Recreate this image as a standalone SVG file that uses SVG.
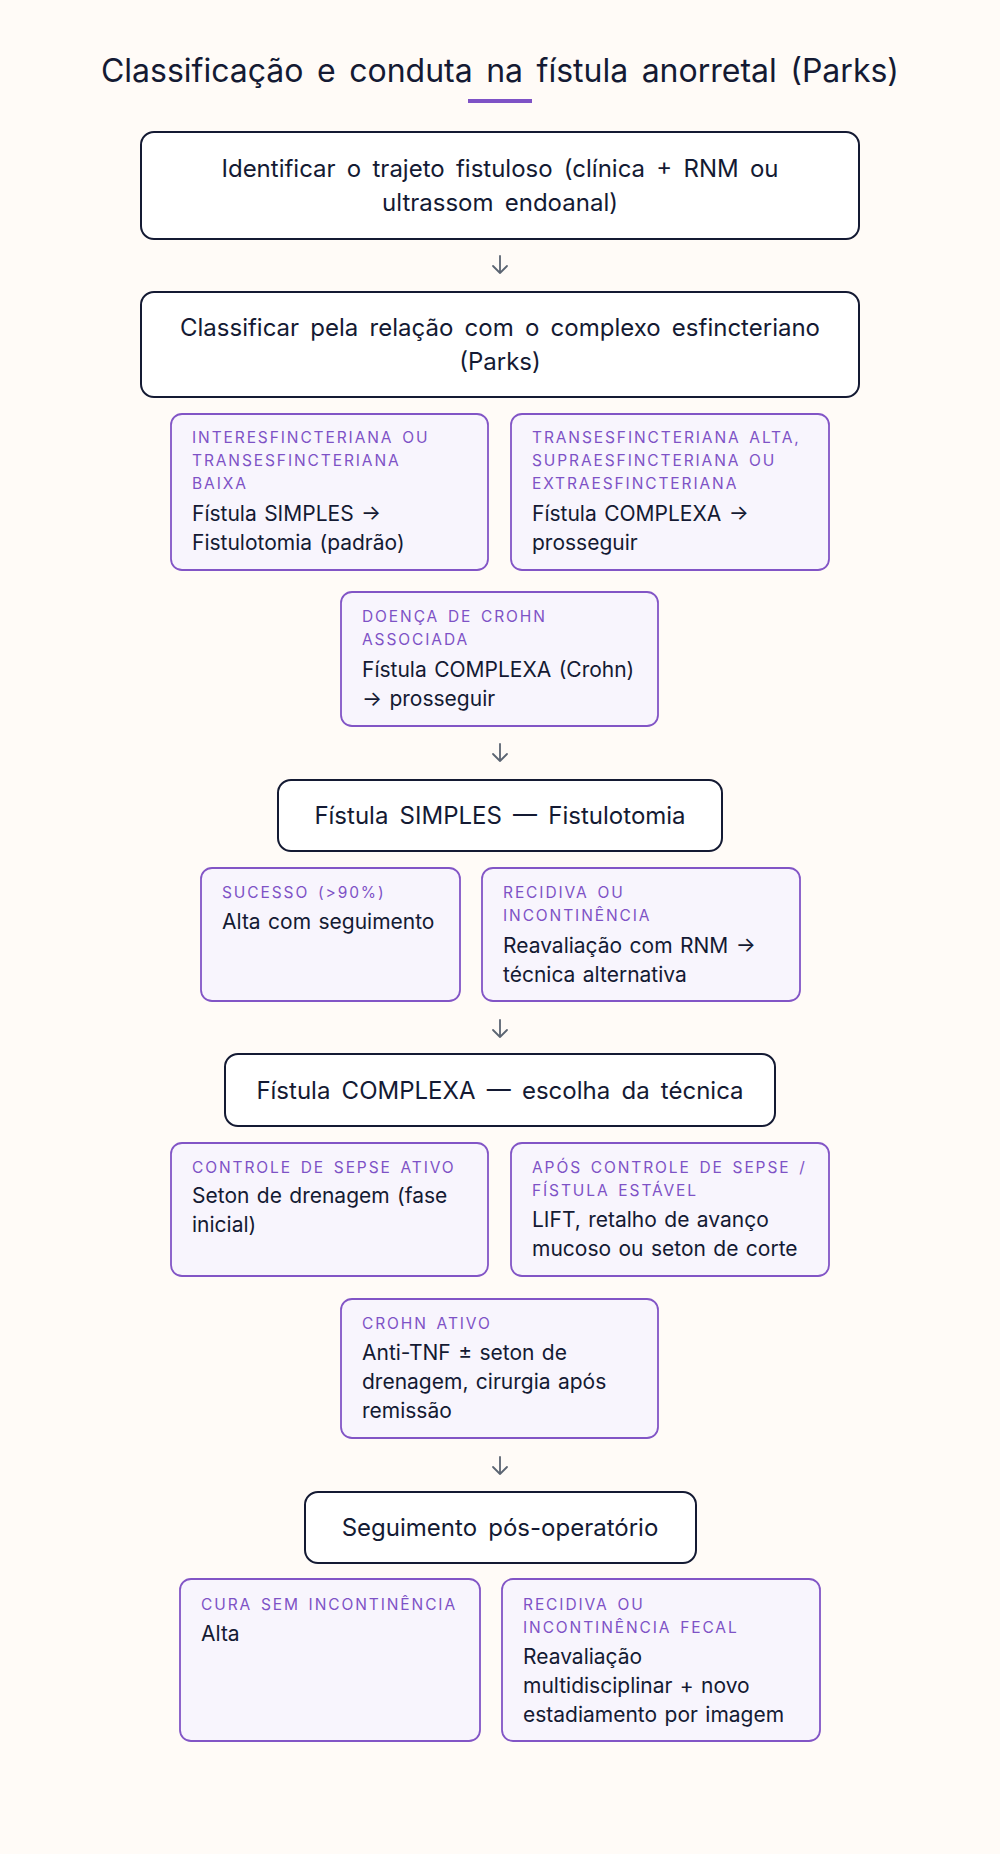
<svg xmlns="http://www.w3.org/2000/svg" width="1000" height="1854" viewBox="0 0 1000 1854">
<style>
.bg{fill:#fffbf7}
.title{font-family:Inter,"Liberation Sans",sans-serif;font-size:32px;word-spacing:4.5px;fill:#141a33;text-anchor:middle}
.main rect{fill:#ffffff;stroke:#141a33;stroke-width:2}
.main text{font-family:Inter,"Liberation Sans",sans-serif;font-size:24px;word-spacing:4.5px;fill:#141a33;text-anchor:middle}
.sub rect{fill:#f8f5fd;stroke:#8255c6;stroke-width:1.8}
.lab{font-family:Inter,"Liberation Sans",sans-serif;font-size:15.5px;letter-spacing:1.9px;word-spacing:2.5px;fill:#7e52c6}
.body{font-family:Inter,"Liberation Sans",sans-serif;font-size:21px;word-spacing:1.5px;fill:#141a33}
.conn path{fill:none;stroke:#5b6472;stroke-width:1.8;stroke-linecap:round;stroke-linejoin:round}
</style>
<rect class="bg" x="0" y="0" width="1000" height="1854"/>
<text class="title" x="500" y="82">Classificação e conduta na fístula anorretal (Parks)</text>
<rect x="468" y="99" width="64" height="4" fill="#7e52c6"/>

<g id="n1" class="main">
<rect x="141" y="132" width="718" height="107" rx="13"/>
<text x="500" y="177">Identificar o trajeto fistuloso (clínica + RNM ou</text>
<text x="500" y="211">ultrassom endoanal)</text>
</g>

<g id="n2" class="main">
<rect x="141" y="292" width="718" height="105" rx="13"/>
<text x="500" y="336">Classificar pela relação com o complexo esfincteriano</text>
<text x="500" y="370">(Parks)</text>
</g>

<g id="n2a" class="sub">
<rect x="171" y="414" width="317" height="156" rx="11"/>
<text class="lab" x="192" y="443">INTERESFINCTERIANA OU</text>
<text class="lab" x="192" y="466">TRANSESFINCTERIANA</text>
<text class="lab" x="192" y="489">BAIXA</text>
<text class="body" x="192" y="521">Fístula SIMPLES →</text>
<text class="body" x="192" y="550">Fistulotomia (padrão)</text>
</g>

<g id="n2b" class="sub">
<rect x="511" y="414" width="318" height="156" rx="11"/>
<text class="lab" x="532" y="443">TRANSESFINCTERIANA ALTA,</text>
<text class="lab" x="532" y="466">SUPRAESFINCTERIANA OU</text>
<text class="lab" x="532" y="489">EXTRAESFINCTERIANA</text>
<text class="body" x="532" y="521">Fístula COMPLEXA →</text>
<text class="body" x="532" y="550">prosseguir</text>
</g>

<g id="n2c" class="sub">
<rect x="341" y="592" width="317" height="134" rx="11"/>
<text class="lab" x="362" y="622">DOENÇA DE CROHN</text>
<text class="lab" x="362" y="645">ASSOCIADA</text>
<text class="body" x="362" y="677">Fístula COMPLEXA (Crohn)</text>
<text class="body" x="362" y="706">→ prosseguir</text>
</g>

<g id="n3" class="main">
<rect x="278" y="780" width="444" height="71" rx="13"/>
<text x="500" y="824">Fístula SIMPLES — Fistulotomia</text>
</g>

<g id="n3a" class="sub">
<rect x="201" y="868" width="259" height="133" rx="11"/>
<text class="lab" x="222" y="898">SUCESSO (&gt;90%)</text>
<text class="body" x="222" y="929">Alta com seguimento</text>
</g>

<g id="n3b" class="sub">
<rect x="482" y="868" width="318" height="133" rx="11"/>
<text class="lab" x="503" y="898">RECIDIVA OU</text>
<text class="lab" x="503" y="921">INCONTINÊNCIA</text>
<text class="body" x="503" y="953">Reavaliação com RNM →</text>
<text class="body" x="503" y="982">técnica alternativa</text>
</g>

<g id="n4" class="main">
<rect x="225" y="1054" width="550" height="72" rx="13"/>
<text x="500" y="1099">Fístula COMPLEXA — escolha da técnica</text>
</g>

<g id="n4a" class="sub">
<rect x="171" y="1143" width="317" height="133" rx="11"/>
<text class="lab" x="192" y="1173">CONTROLE DE SEPSE ATIVO</text>
<text class="body" x="192" y="1203">Seton de drenagem (fase</text>
<text class="body" x="192" y="1232">inicial)</text>
</g>

<g id="n4b" class="sub">
<rect x="511" y="1143" width="318" height="133" rx="11"/>
<text class="lab" x="532" y="1173">APÓS CONTROLE DE SEPSE /</text>
<text class="lab" x="532" y="1196">FÍSTULA ESTÁVEL</text>
<text class="body" x="532" y="1227">LIFT, retalho de avanço</text>
<text class="body" x="532" y="1256">mucoso ou seton de corte</text>
</g>

<g id="n4c" class="sub">
<rect x="341" y="1299" width="317" height="139" rx="11"/>
<text class="lab" x="362" y="1329">CROHN ATIVO</text>
<text class="body" x="362" y="1360">Anti-TNF ± seton de</text>
<text class="body" x="362" y="1389">drenagem, cirurgia após</text>
<text class="body" x="362" y="1418">remissão</text>
</g>

<g id="n5" class="main">
<rect x="305" y="1492" width="391" height="71" rx="13"/>
<text x="500" y="1536">Seguimento pós-operatório</text>
</g>

<g id="n5a" class="sub">
<rect x="180" y="1579" width="300" height="162" rx="11"/>
<text class="lab" x="201" y="1610">CURA SEM INCONTINÊNCIA</text>
<text class="body" x="201" y="1641">Alta</text>
</g>

<g id="n5b" class="sub">
<rect x="502" y="1579" width="318" height="162" rx="11"/>
<text class="lab" x="523" y="1610">RECIDIVA OU</text>
<text class="lab" x="523" y="1633">INCONTINÊNCIA FECAL</text>
<text class="body" x="523" y="1664">Reavaliação</text>
<text class="body" x="523" y="1693">multidisciplinar + novo</text>
<text class="body" x="523" y="1722">estadiamento por imagem</text>
</g>

<g id="connectors" class="conn">
<path d="M500 256 V273 M493 266 L500 273 L507 266"/>
<path d="M500 744 V761 M493 754 L500 761 L507 754"/>
<path d="M500 1020 V1037 M493 1030 L500 1037 L507 1030"/>
<path d="M500 1457 V1474 M493 1467 L500 1474 L507 1467"/>
</g>
</svg>
